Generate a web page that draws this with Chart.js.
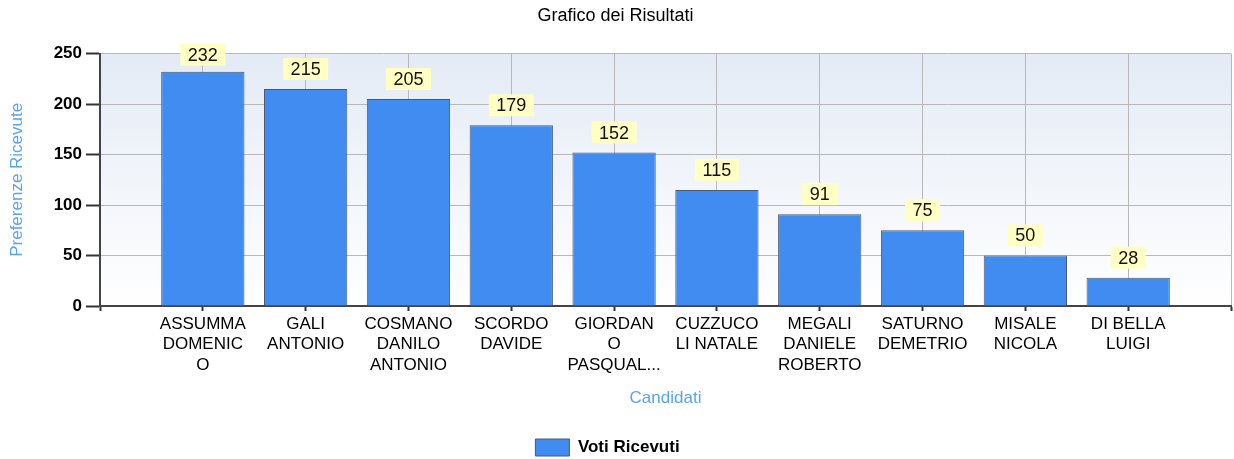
<!DOCTYPE html>
<html>
<head>
<meta charset="utf-8">
<title>Grafico dei Risultati</title>
<script src="https://cdn.jsdelivr.net/npm/chart.js@4.4.1/dist/chart.umd.min.js"></script>
<style>
  body { margin: 0; background: #fff; }
</style>
</head>
<body>
<canvas id="myChart" width="1234" height="459"></canvas>
<script>
// candidati (etichette gia' spezzate come nel grafico originale)
const candidati = [
  ['ASSUMMA', 'DOMENIC', 'O'],
  ['GALI', 'ANTONIO'],
  ['COSMANO', 'DANILO', 'ANTONIO'],
  ['SCORDO', 'DAVIDE'],
  ['GIORDAN', 'O', 'PASQUAL...'],
  ['CUZZUCO', 'LI NATALE'],
  ['MEGALI', 'DANIELE', 'ROBERTO'],
  ['SATURNO', 'DEMETRIO'],
  ['MISALE', 'NICOLA'],
  ['DI BELLA', 'LUIGI']
];
const voti = [232, 215, 205, 179, 152, 115, 91, 75, 50, 28];
const yTicks = [0, 50, 100, 150, 200, 250];

// slot vuoto all'inizio e alla fine (asse da 0 a 11)
const labels = [''].concat(candidati, ['']);
const dati = [null].concat(voti, [null]);

Chart.defaults.font.family = '"Liberation Sans", Arial, sans-serif';

// sfondo sfumato dell'area del grafico
const sfondo = {
  id: 'sfondo',
  afterLayout(chart) {
    // legenda un po' spostata a sinistra come nell'originale
    chart.legend.left -= 8;
    chart.legend.right -= 8;
  },
  beforeDraw(chart) {
    const { ctx, chartArea: a } = chart;
    const g = ctx.createLinearGradient(0, a.top, 0, a.bottom);
    g.addColorStop(0, '#e4ebf6');
    g.addColorStop(1, '#ffffff');
    ctx.save();
    ctx.fillStyle = g;
    ctx.fillRect(a.left, a.top, a.right - a.left, a.bottom - a.top);
    ctx.restore();
  }
};

// valori sopra le barre, su sfondo giallo
const etichette = {
  id: 'etichette',
  afterDatasetsDraw(chart) {
    const ctx = chart.ctx;
    const meta = chart.getDatasetMeta(0);
    ctx.save();
    ctx.font = '18px "Liberation Sans", Arial, sans-serif';
    ctx.textAlign = 'center';
    ctx.textBaseline = 'middle';
    meta.data.forEach((bar, i) => {
      const v = dati[i];
      if (v == null) return;
      const testo = String(v);
      const w = ctx.measureText(testo).width + 15;
      const h = 22;
      let top = bar.y - 9 - h;
      if (top < chart.chartArea.top - 10) top = chart.chartArea.top - 10;
      ctx.fillStyle = '#ffffc4';
      ctx.fillRect(bar.x - w / 2, top, w, h);
      ctx.fillStyle = '#111';
      ctx.fillText(testo, bar.x, top + h / 2 + 1);
    });
    ctx.restore();
  }
};

const ctx = document.getElementById('myChart');
const myChart = new Chart(ctx, {
  type: 'bar',
  data: {
    labels: labels,
    datasets: [{
      label: 'Voti Ricevuti',
      data: dati,
      backgroundColor: '#418cf0',
      borderColor: '#4b5a73',
      borderWidth: 1,
      barPercentage: 0.81,
      categoryPercentage: 1
    }]
  },
  options: {
    responsive: false,
    animation: false,
    layout: { padding: { left: 0, right: 3, top: 0, bottom: -7 } },
    plugins: {
      title: {
        display: true,
        text: 'Grafico dei Risultati',
        color: '#000',
        font: { size: 18, weight: 'normal' },
        padding: { top: 5, bottom: 27 }
      },
      legend: {
        position: 'bottom',
        labels: {
          boxWidth: 34,
          boxHeight: 17,
          color: '#000',
          font: { size: 17, weight: 'bold' },
          padding: 10
        }
      },
      tooltip: { enabled: false }
    },
    scales: {
      x: {
        offset: false,
        grid: { offset: false, color: '#b8b8b8', tickLength: 5, tickColor: '#333', tickWidth: 2 },
        border: { color: '#444', width: 2 },
        ticks: {
          autoSkip: false,
          maxRotation: 0,
          color: '#000',
          font: { size: 17, lineHeight: 1.2 },
          padding: 3
        },
        title: {
          display: true,
          text: 'Candidati',
          color: '#5aa2f2',
          font: { size: 17 },
          padding: { top: 0, bottom: 20 }
        },
        afterFit(scale) { scale.height = 123; }
      },
      y: {
        min: yTicks[0],
        max: yTicks[yTicks.length - 1],
        ticks: {
          stepSize: yTicks[1] - yTicks[0],
          color: '#000',
          font: { size: 17, weight: 'bold' },
          padding: 4
        },
        grid: { color: '#b8b8b8', tickLength: 14, tickColor: '#333', tickWidth: 2 },
        border: { color: '#444', width: 2 },
        title: {
          display: true,
          text: 'Preferenze Ricevute',
          color: '#5aa2f2',
          font: { size: 17 },
          padding: { top: 7, bottom: 0 }
        },
        afterFit(scale) { scale.width = 100; }
      }
    }
  },
  plugins: [sfondo, etichette]
});
</script>
</body>
</html>
